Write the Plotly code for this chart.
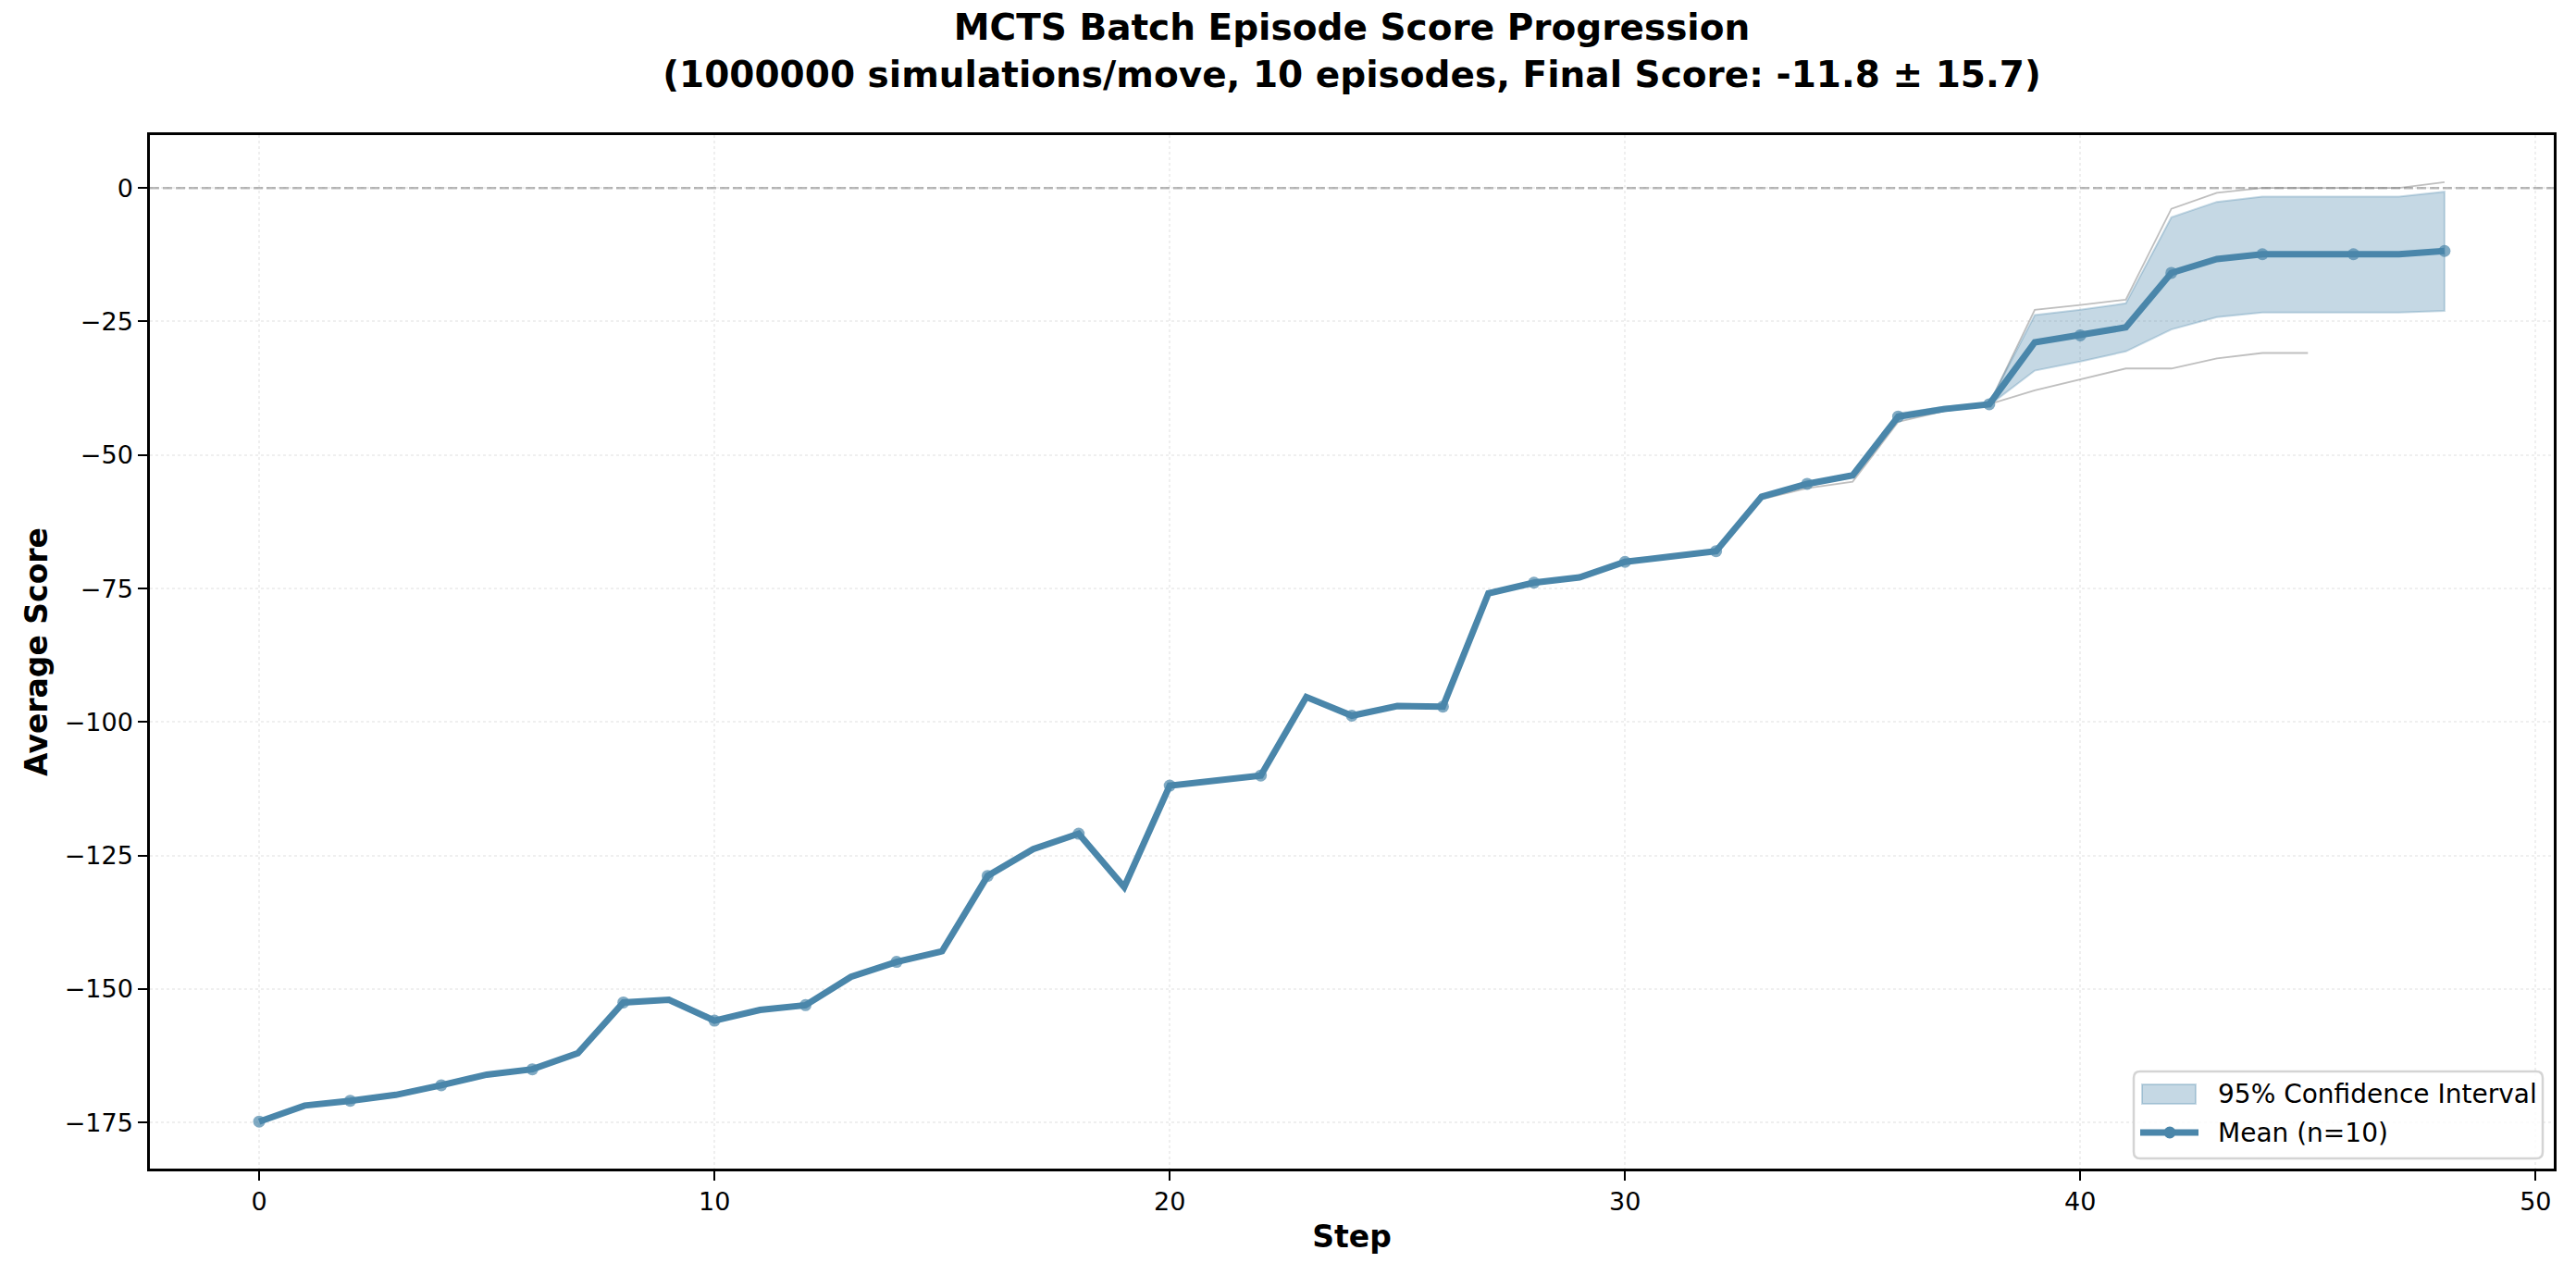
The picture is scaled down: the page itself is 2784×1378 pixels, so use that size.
import plotly.graph_objects as go

# mean score per step across 10 episodes
steps = list(range(49))
mean_score = [-174.8, -171.8, -170.9, -169.8, -168.0, -166.0, -165.0, -162.0, -152.5, -152.0,
              -155.9, -153.9, -153.0, -147.7, -144.9, -142.9, -128.8, -123.8, -120.9, -130.9,
              -111.9, -111.0, -110.0, -95.3, -98.8, -97.0, -97.1, -75.9, -73.9, -72.9,
              -70.0, -69.0, -68.0, -57.8, -55.4, -53.8, -42.8, -41.4, -40.5, -28.9,
              -27.6, -26.1, -15.9, -13.3, -12.4, -12.4, -12.4, -12.4, -11.8]

# 95% confidence band (only visibly wide at the end)
ci_steps = list(range(36, 49))
ci_upper = [-42.2, -41.0, -40.3, -23.8, -22.8, -21.6, -5.5, -2.6, -1.6, -1.6, -1.6, -1.6, -0.7]
ci_lower = [-43.4, -41.8, -40.7, -34.2, -32.5, -30.6, -26.5, -24.2, -23.3, -23.3, -23.3, -23.3, -23.0]

# individual episodes that stand out from the mean
ep_high_steps = list(range(38, 49))
ep_high = [-40.5, -22.8, -21.9, -20.9, -3.9, -0.9, 0.0, 0.0, 0.0, 0.0, 1.1]
ep_low_steps = list(range(33, 46))
ep_low = [-58.3, -56.2, -55.0, -43.8, -41.8, -40.5, -37.9, -35.9, -33.8, -33.8, -31.9, -30.9, -30.9]

y_ticks = [-175, -150, -125, -100, -75, -50, -25, 0]
x_ticks = [0, 10, 20, 30, 40, 50]

title_text = ("<b>MCTS Batch Episode Score Progression<br>"
              "(1000000 simulations/move, 10 episodes, Final Score: -11.8 ± 15.7)</b>")
legend_labels = ["95% Confidence Interval", "Mean (n=10)"]

line_col = "#4a86aa"
band_fill = "rgba(74,134,170,0.32)"
band_edge = "rgba(74,134,170,0.3)"
font = "DejaVu Sans"
W, H = 2784, 1378
off = 8  # page body margin of the html

fig = go.Figure()

for xs, ys in [(ep_high_steps, ep_high), (ep_low_steps, ep_low)]:
    fig.add_trace(go.Scatter(x=xs, y=ys, mode="lines", showlegend=False, hoverinfo="skip",
                             line=dict(color="rgba(128,128,128,0.5)", width=1.8)))

fig.add_trace(go.Scatter(x=ci_steps + ci_steps[::-1], y=ci_upper + ci_lower[::-1],
                         mode="lines", fill="toself", fillcolor=band_fill,
                         name=legend_labels[0], showlegend=False,
                         line=dict(color=band_edge, width=2)))

marker_sizes = [13 if i % 2 == 0 else 0 for i in range(len(steps))]
fig.add_trace(go.Scatter(x=steps, y=mean_score, mode="lines+markers", name=legend_labels[1],
                         showlegend=False, line=dict(color=line_col, width=7),
                         marker=dict(color=line_col, size=marker_sizes, line=dict(width=0))))

fig.add_hline(y=0, line=dict(color="rgba(128,128,128,0.55)", width=2.5, dash="10px,4px"))

# legend drawn by hand (matplotlib style patch + rounded frame), pixels from the
# bottom-right corner of the plot area
px = dict(xref="paper", yref="paper", xanchor=1, yanchor=0,
          xsizemode="pixel", ysizemode="pixel")
r = 7
x0, x1, y0, y1 = -454, -12, 11, 105
frame = (f"M{x0 + r},{y0} L{x1 - r},{y0} Q{x1},{y0} {x1},{y0 + r} L{x1},{y1 - r} "
         f"Q{x1},{y1} {x1 - r},{y1} L{x0 + r},{y1} Q{x0},{y1} {x0},{y1 - r} "
         f"L{x0},{y0 + r} Q{x0},{y0} {x0 + r},{y0} Z")
fig.add_shape(type="path", path=frame, fillcolor="rgba(255,255,255,0.8)",
              line=dict(color="#d4d4d4", width=2.5), **px)
fig.add_shape(type="rect", x0=-445, x1=-387, y0=70, y1=91, fillcolor=band_fill,
              line=dict(color=band_edge, width=2), **px)
fig.add_shape(type="line", x0=-447, x1=-384, y0=39, y1=39,
              line=dict(color=line_col, width=7), **px)
fig.add_shape(type="circle", x0=-421.5, x1=-408.5, y0=32.5, y1=45.5, fillcolor=line_col,
              line=dict(width=0), **px)
for label, dy in zip(legend_labels, [81, 39]):
    fig.add_annotation(x=1, y=0, xref="paper", yref="paper", xanchor="left", yanchor="middle",
                       xshift=-365, yshift=dy, text=label, showarrow=False,
                       font=dict(family=font, size=28, color="black"))

axis_common = dict(
    showline=True, linecolor="black", linewidth=2.5, mirror=True,
    ticks="outside", ticklen=10, tickwidth=2.2, tickcolor="black",
    showgrid=True, gridcolor="rgba(176,176,176,0.2)", gridwidth=1.5, griddash="dot",
    zeroline=False, automargin=False,
    tickfont=dict(family=font, size=27, color="black"),
)

fig.update_xaxes(axis_common, range=[-2.4, 50.4], tickvals=x_ticks,
                 title=dict(text="<b>Step</b>", font=dict(family=font, size=33, color="black"),
                            standoff=12))
fig.update_yaxes(axis_common, range=[-183.6, 9.9], tickvals=y_ticks,
                 ticktext=[str(v).replace("-", "\u2212") for v in y_ticks],
                 title=dict(text="<b>Average Score</b>",
                            font=dict(family=font, size=33, color="black"), standoff=9))

fig.update_layout(
    width=W, height=H,
    margin=dict(l=162 - off, r=24 + off, t=146 - off, b=115 + off),
    paper_bgcolor="white", plot_bgcolor="white",
    font=dict(family=font, color="black"),
    title=dict(text=title_text, x=(1461 - off) / W, xanchor="center",
               y=1 - (43 - off) / H, yanchor="top", yref="container",
               font=dict(family=font, size=39, color="black")),
    showlegend=False,
)

fig.write_html("out.html")
